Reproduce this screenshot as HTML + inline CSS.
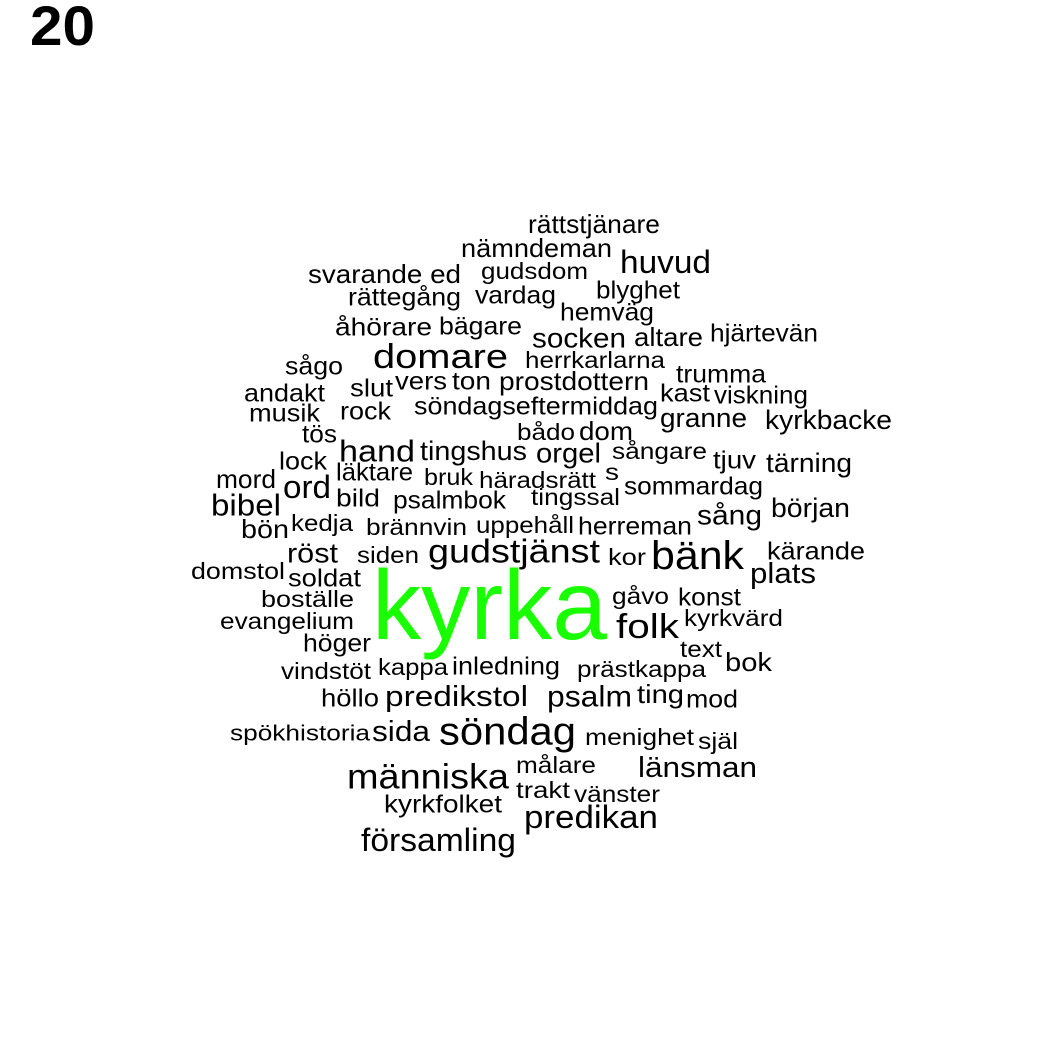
<!DOCTYPE html>
<html><head><meta charset="utf-8"><style>
html,body{margin:0;padding:0;background:#fff;}
svg{display:block;font-family:"Liberation Sans",Arial,sans-serif;}
</style></head><body>
<svg id="cloud" width="1050" height="1050" viewBox="0 0 1050 1050" xmlns="http://www.w3.org/2000/svg">
<rect width="1050" height="1050" fill="#fff"/>
<text x="30" y="45" font-size="56" font-weight="bold" textLength="65" lengthAdjust="spacingAndGlyphs" fill="#000">20</text>
<g id="words"></g>
</svg>
<script>
const words=["rättstjänare","nämndeman","gudsdom","huvud","svarande ed","rättegång","vardag","blyghet","hemväg","åhörare","bägare","socken","altare","hjärtevän","domare","sågo","herrkarlarna","trumma","andakt","slut","vers","ton","prostdottern","kast","viskning","musik","rock","söndagseftermiddag","granne","kyrkbacke","tös","bådo","dom","hand","tingshus","orgel","sångare","tjuv","tärning","lock","läktare","bruk","häradsrätt","s","mord","ord","sommardag","bild","psalmbok","tingssal","bibel","början","sång","kedja","brännvin","uppehåll","herreman","bön","gudstjänst","bänk","röst","siden","kor","kärande","domstol","soldat","plats","kyrka","gåvo","boställe","konst","evangelium","folk","kyrkvärd","höger","text","kappa","inledning","vindstöt","prästkappa","bok","predikstol","psalm","ting","mod","höllo","spökhistoria","sida","söndag","menighet","själ","människa","målare","länsman","trakt","vänster","kyrkfolket","predikan","församling"];
const sizes=[24,24,22,30,24,23,23,23,23,23,23,26,24,23,32,23,22,23,23,23,23,23,24,23,23,23,23,23,25,25,23,22,24,29,25,26,22,23,25,23,23,22,22,22,24,30,23,23,23,22,29,25,26,22,22,22,23,24,31,37,26,22,22,23,22,23,27,92,22,22,23,22,32,22,23,22,22,23,22,22,24,27,28,24,23,23,21,27,36,22,22,33,22,27,22,22,23,30,30];
const xl=[528,461,481,620,308,348,475,596,560,335,439,532,634,710,373,285,525,676,244,350,395,452,499,660,714,249,340,414,660,765,302,517,579,339,420,536,612,713,766,279,336,424,479,605,216,283,624,336,393,531,211,771,697,291,366,476,578,241,428,651,287,357,608,767,191,288,750,372,612,261,678,220,616,684,303,680,378,452,281,577,725,385,547,637,686,321,230,372,439,585,698,347,516,638,516,574,384,524,361];
const xr=[660,612,588,711,461,461,556,680,654,432,522,626,703,818,508,343,665,766,325,393,447,491,649,710,808,320,391,658,747,892,337,575,633,415,527,601,707,756,852,327,413,473,596,619,276,331,763,380,506,620,281,850,762,353,467,574,692,289,600,744,338,419,646,865,285,361,816,607,669,354,741,354,679,783,371,722,448,560,371,706,772,528,632,684,738,379,370,430,576,694,738,509,596,757,570,660,502,658,516];
const yc=[225,249,271,262,275,298,296,291,313,328,327,338,338,334,357,367,360,375,394,389,382,382,382,394,396,414,412,407,418,420,435,432,432,451,451,453,451,461,463,462,473,477,480,472,480,487,487,499,501,497,505,508,515,523,527,525,527,530,552,556,553,555,557,552,571,579,574,605,596,599,598,621,627,618,644,649,667,667,671,669,663,697,697,695,700,699,733,732,732,737,741,777,765,768,790,794,805,817,840];
const SCALE=1.07;
const g=document.getElementById('words');
const NS='http://www.w3.org/2000/svg';
words.forEach((w,i)=>{
  const t=document.createElementNS(NS,'text');
  
  
  t.setAttribute('x',(xl[i]+xr[i])/2);
  t.setAttribute('y',yc[i]);
  t.setAttribute('text-anchor','middle');
  t.setAttribute('dominant-baseline','central');
  t.setAttribute('font-size',(sizes[i]*SCALE).toFixed(1));
  t.setAttribute('textLength',xr[i]-xl[i]);
  t.setAttribute('lengthAdjust','spacingAndGlyphs');
  t.setAttribute('fill',w==='kyrka'?'#1aff00':'#000');
  t.textContent=w;
  g.appendChild(t);
});
</script>
</body></html>
